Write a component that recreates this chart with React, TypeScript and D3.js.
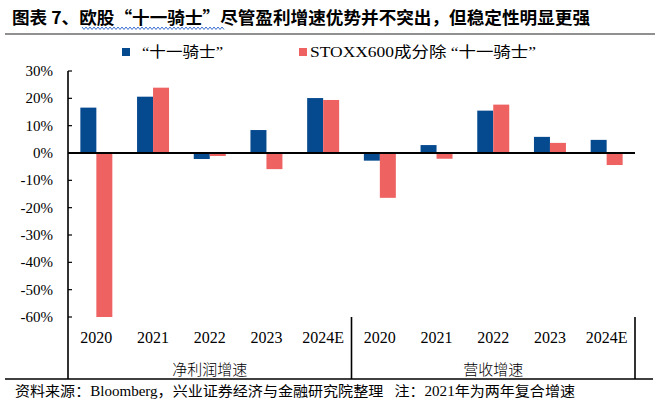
import * as React from 'react'
import { useEffect, useRef } from 'react'
import * as d3 from 'd3'

const years = ['2020', '2021', '2022', '2023', '2024E']
const groups = ['净利润增速', '营收增速']
const seriesNames = ['“十一骑士”', 'STOXX600成分除 “十一骑士”']
// 净利润增速
const knightsProfit = [16.6, 20.6, -2.2, 8.4, 20.1]
const othersProfit = [-60, 23.9, -1.1, -5.9, 19.4]
// 营收增速
const knightsRevenue = [-2.8, 2.9, 15.5, 5.9, 4.8]
const othersRevenue = [-16.4, -2.1, 17.7, 3.7, -4.4]
const yTicks = [30, 20, 10, 0, -10, -20, -30, -40, -50, -60]

const title = '图表 7、欧股“十一骑士”尽管盈利增速优势并不突出，但稳定性明显更强'
const source = '资料来源：Bloomberg，兴业证券经济与金融研究院整理   注：2021年为两年复合增速'

const colors = ['#05498F', '#EF6262']
const serif = '"Liberation Serif", "Times New Roman", "Noto Sans CJK SC", serif'

const width = 659
const height = 405

const App = () => {
    const chartRef = useRef<SVGSVGElement>(null)

    useEffect((): void => {
        const svg = d3.select(chartRef.current)
        svg.selectAll('*').remove()

        const rows = groups.flatMap((g, gi) =>
            years.map((year, i) => ({
                key: g + '|' + year,
                year,
                values: gi === 0 ? [knightsProfit[i], othersProfit[i]] : [knightsRevenue[i], othersRevenue[i]],
            }))
        )

        const left = 68
        const right = 635
        const xScale = d3.scaleBand()
            .domain(rows.map(d => d.key))
            .range([left, right])
            .paddingInner(0.436)
            .paddingOuter(0.218)
        const xInner = d3.scaleBand()
            .domain(['0', '1'])
            .range([0, xScale.bandwidth()])
        const yScale = d3.scaleLinear()
            .domain([-60, 30])
            .range([317, 71])
        const step = xScale.step()

        // title
        svg.append('text')
            .attr('x', 12)
            .attr('y', 24)
            .attr('textLength', 578)
            .attr('lengthAdjust', 'spacingAndGlyphs')
            .style('font-family', '"Noto Sans CJK SC", sans-serif')
            .style('font-weight', 'bold')
            .style('font-size', '17px')
            .style('white-space', 'pre')
            .text(title)

        // spell-check squiggle under the title
        const wave = d3.range(82, 225, 2).map((x, i) => [x, i % 2 === 0 ? 27 : 29.5] as [number, number])
        svg.append('path')
            .attr('d', d3.line()(wave))
            .attr('fill', 'none')
            .attr('stroke', '#3D6FD0')
            .attr('stroke-width', 1)

        svg.append('line')
            .attr('x1', 5).attr('x2', 655)
            .attr('y1', 34).attr('y2', 34)
            .attr('stroke', '#222')
            .attr('stroke-width', 1.2)

        // legend
        const legendX = [122, 299]
        const legendW = [81, 226]
        seriesNames.forEach((name, i) => {
            svg.append('rect')
                .attr('x', legendX[i])
                .attr('y', 48)
                .attr('width', 8)
                .attr('height', 8)
                .attr('fill', colors[i])
            svg.append('text')
                .attr('x', legendX[i] + (i === 0 ? 20 : 11))
                .attr('y', 57)
                .attr('textLength', legendW[i])
                .attr('lengthAdjust', 'spacingAndGlyphs')
                .style('font-family', serif)
                .style('font-size', '15px')
                .style('white-space', 'pre')
                .text(name)
        })

        // bars
        rows.forEach(row => {
            row.values.forEach((v, si) => {
                svg.append('rect')
                    .attr('x', (xScale(row.key) as number) + (xInner(String(si)) as number))
                    .attr('y', yScale(Math.max(0, v)))
                    .attr('width', xInner.bandwidth())
                    .attr('height', Math.abs(yScale(v) - yScale(0)))
                    .attr('fill', colors[si])
            })
        })

        // zero line
        svg.append('line')
            .attr('x1', left).attr('x2', right)
            .attr('y1', yScale(0)).attr('y2', yScale(0))
            .attr('stroke', '#000')
            .attr('stroke-width', 2)

        // y axis
        const yAxis = svg.append('g')
        yAxis.append('line')
            .attr('x1', left).attr('x2', left)
            .attr('y1', yScale(30)).attr('y2', 379)
            .attr('stroke', '#000')
            .attr('stroke-width', 1.6)
        yTicks.forEach(t => {
            yAxis.append('line')
                .attr('x1', left).attr('x2', left + 4)
                .attr('y1', yScale(t)).attr('y2', yScale(t))
                .attr('stroke', '#000')
                .attr('stroke-width', 1.2)
            yAxis.append('text')
                .attr('x', 53)
                .attr('y', yScale(t) + 5)
                .attr('text-anchor', 'end')
                .style('font-family', serif)
                .style('font-size', '15px')
                .text(t + '%')
        })

        // category labels
        rows.forEach(row => {
            svg.append('text')
                .attr('x', (xScale(row.key) as number) + xScale.bandwidth() / 2)
                .attr('y', 343)
                .attr('text-anchor', 'middle')
                .style('font-family', serif)
                .style('font-size', '16px')
                .text(row.year)
        })

        groups.forEach((g, gi) => {
            const x0 = left + gi * years.length * step
            const x1 = x0 + years.length * step
            svg.append('line')
                .attr('x1', x1).attr('x2', x1)
                .attr('y1', yScale(-60)).attr('y2', 379)
                .attr('stroke', '#000')
                .attr('stroke-width', 1.6)
            svg.append('text')
                .attr('x', (x0 + x1) / 2)
                .attr('y', 375)
                .attr('text-anchor', 'middle')
                .style('font-family', '"Noto Sans CJK SC", sans-serif')
                .style('font-size', '15px')
                .style('font-weight', 300)
                .text(g)
        })

        svg.append('line')
            .attr('x1', 5).attr('x2', 653)
            .attr('y1', 379).attr('y2', 379)
            .attr('stroke', '#000')
            .attr('stroke-width', 1.4)

        // source note
        svg.append('text')
            .attr('x', 15)
            .attr('y', 396)
            .attr('textLength', 560)
            .attr('lengthAdjust', 'spacingAndGlyphs')
            .style('font-family', serif)
            .style('font-size', '14px')
            .style('white-space', 'pre')
            .text(source)
    }, [])

    return (
        <svg
            ref={chartRef}
            width={width}
            height={height}
            style={{ position: 'absolute', left: 0, top: 0, background: '#fff' }}
        ></svg>
    )
}

export default App
